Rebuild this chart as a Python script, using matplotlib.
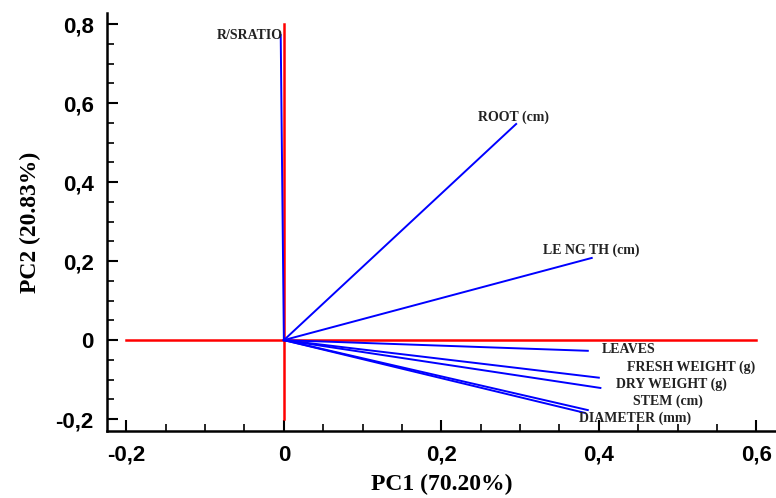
import matplotlib.pyplot as plt
from matplotlib.ticker import MultipleLocator, FuncFormatter

# PCA loadings (PC1, PC2) for each trait
variables = ["R/SRATIO", "ROOT (cm)", "LE NG TH (cm)", "LEAVES", "FRESH WEIGHT (g)",
             "DRY WEIGHT (g)", "STEM (cm)", "DIAMETER (mm)"]
pc1 = [-0.004, 0.295, 0.391, 0.386, 0.400, 0.402, 0.386, 0.382]
pc2 = [0.772, 0.547, 0.208, -0.027, -0.095, -0.121, -0.177, -0.184]

# where each trait name sits (data units)
label_x = [-0.001, 0.246, 0.329, 0.404, 0.436, 0.422, 0.444, 0.375]
label_y = [0.772, 0.565, 0.228, -0.023, -0.068, -0.111, -0.154, -0.197]
label_ha = ["right", "left", "left", "left", "left", "left", "left", "left"]

pc1_label = "PC1 (70.20%)"
pc2_label = "PC2 (20.83%)"


def comma_fmt(v, pos):
    if abs(v) < 1e-9:
        return "0"
    return ("%.1f" % v).replace(".", ",")


fig = plt.figure(figsize=(7.76, 4.98), dpi=100)
ax = fig.add_axes([0.1385, 0.1345, 0.8615, 0.8395])

# red reference axes through the origin
ax.plot([0, 0], [-0.2, 0.8], color="red", lw=1.8, zorder=2)
ax.plot([-0.2, 0.6], [0, 0], color="red", lw=1.8, zorder=2)

for x, y in zip(pc1, pc2):
    ax.plot([0, x], [0, y], color="blue", lw=1.4, zorder=3)

for name, tx, ty, ha in zip(variables, label_x, label_y, label_ha):
    ax.text(tx, ty, name, ha=ha, va="center", fontsize=10,
            fontweight="bold", family="Liberation Serif", color="#222222")

ax.set_xlim(-0.224, 0.625)
ax.set_ylim(-0.230, 0.828)

for side in ["top", "right"]:
    ax.spines[side].set_visible(False)
for side in ["left", "bottom"]:
    ax.spines[side].set_linewidth(1.8)

ax.xaxis.set_major_locator(MultipleLocator(0.2))
ax.xaxis.set_minor_locator(MultipleLocator(0.05))
ax.yaxis.set_major_locator(MultipleLocator(0.2))
ax.yaxis.set_minor_locator(MultipleLocator(0.05))
ax.xaxis.set_major_formatter(FuncFormatter(comma_fmt))
ax.yaxis.set_major_formatter(FuncFormatter(comma_fmt))
ax.tick_params(which="major", direction="in", length=8, width=1.5, pad=10)
ax.tick_params(which="minor", direction="in", length=5, width=1.2)
for lbl in ax.get_xticklabels() + ax.get_yticklabels():
    lbl.set_fontsize(16)
    lbl.set_fontweight("bold")
    lbl.set_family("Liberation Sans")

ax.set_xlabel(pc1_label, fontsize=17, fontweight="bold", family="Liberation Serif", labelpad=6)
ax.set_ylabel(pc2_label, fontsize=17, fontweight="bold", family="Liberation Serif", labelpad=10)

fig.savefig("out.png", dpi=100)
